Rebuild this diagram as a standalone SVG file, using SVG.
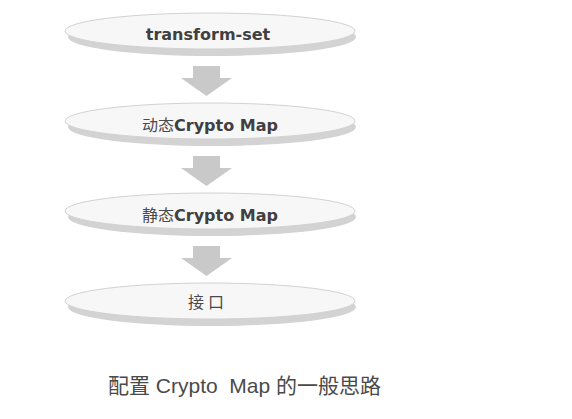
<svg xmlns="http://www.w3.org/2000/svg" width="572" height="419" viewBox="0 0 572 419">
<style>
.rim{fill:#d3d3d3}
.face{fill:#f7f7f7;stroke:#d2d2d2;stroke-width:1}
.lbl{font-family:"DejaVu Sans","Noto Sans CJK SC",sans-serif;font-weight:bold;font-size:16px;fill:#404040;text-anchor:middle}
.cjk{font-family:"Noto Sans CJK SC",sans-serif;font-weight:normal;font-size:16px;fill:#4a4a4a}
.arrow{fill:#c9c9c9}
.cap{font-family:"Liberation Sans","Noto Sans CJK SC",sans-serif;font-size:21px;fill:#4a4a4a;white-space:pre}
</style>
<defs>
<path id="arr" d="M193,0 H220 V12 H232 L206.5,30 L181,12 H193 Z"/>
</defs>
<rect width="572" height="419" fill="#ffffff"/>
<g id="connectors">
<use href="#arr" class="arrow" y="66"/>
<use href="#arr" class="arrow" y="156"/>
<use href="#arr" class="arrow" y="246"/>
</g>
<g id="node-transform-set">
<ellipse class="rim" cx="212" cy="37" rx="144" ry="19"/>
<ellipse class="face" cx="210" cy="31" rx="145" ry="18"/>
<text class="lbl" x="208" y="40">transform-set</text>
</g>
<g id="node-dynamic">
<ellipse class="rim" cx="212" cy="127" rx="144" ry="19"/>
<ellipse class="face" cx="210" cy="121" rx="145" ry="18"/>
<text class="lbl" x="210" y="131"><tspan class="cjk">动态</tspan>Crypto Map</text>
</g>
<g id="node-static">
<ellipse class="rim" cx="212" cy="217" rx="144" ry="19"/>
<ellipse class="face" cx="210" cy="211" rx="145" ry="18"/>
<text class="lbl" x="210" y="221"><tspan class="cjk">静态</tspan>Crypto Map</text>
</g>
<g id="node-interface">
<ellipse class="rim" cx="212" cy="307" rx="144" ry="19"/>
<ellipse class="face" cx="210" cy="301" rx="145" ry="18"/>
<text class="lbl" x="208" y="308"><tspan class="cjk" letter-spacing="4">接口</tspan></text>
</g>
<text class="cap" x="108" y="393" xml:space="preserve">配置 Crypto  Map 的一般思路</text>
</svg>
